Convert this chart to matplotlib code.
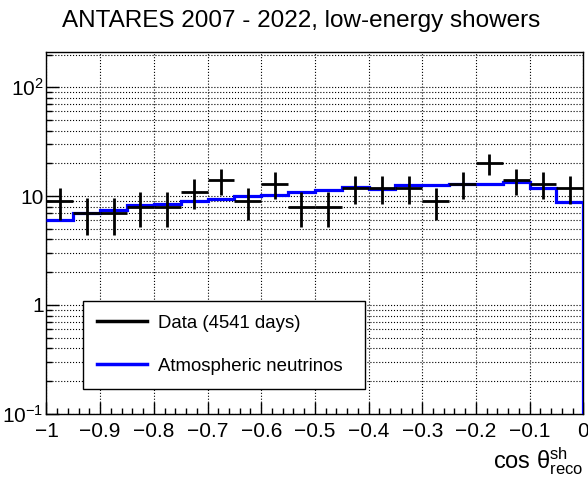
import numpy as np
import matplotlib.pyplot as plt
from matplotlib.ticker import FixedLocator, MultipleLocator, FuncFormatter, LogLocator, NullFormatter

plt.rcParams['font.family'] = ['Liberation Sans', 'DejaVu Sans']
plt.rcParams['mathtext.fontset'] = 'custom'
plt.rcParams['mathtext.rm'] = 'Liberation Sans'
plt.rcParams['mathtext.it'] = 'Liberation Sans:italic'

# bin edges in cos(theta) and counts
edges = np.linspace(-1.0, 0.0, 21)
data_counts = [9, 7, 7, 8, 8, 11, 14, 9, 13, 8,
               8, 12, 12, 12, 9, 13, 20, 14, 13, 12]
atm_nu = [6.1, 7.05, 7.45, 8.3, 8.4, 9.0, 9.45, 10.0, 10.15, 10.9,
          11.35, 12.1, 11.7, 12.6, 12.6, 12.9, 12.9, 13.5, 11.9, 8.9]

centers = 0.5 * (edges[:-1] + edges[1:])
half_w = 0.5 * (edges[1] - edges[0])
data_counts = np.array(data_counts)

fig = plt.figure(figsize=(5.88, 4.79), dpi=100)
ax = fig.add_axes([0.079, 0.136, 0.913, 0.755])

ax.stairs(atm_nu, edges, baseline=None, color='#0000ff', lw=2.3, zorder=3)
# histogram drops to zero at the last edge
ax.vlines(edges[-1], 1e-4, atm_nu[-1], color='#0000ff', lw=2.3, zorder=3)
ax.errorbar(centers, data_counts, xerr=half_w, yerr=np.sqrt(data_counts),
            fmt='none', ecolor='black', elinewidth=2.0, capsize=0, zorder=4)

ax.set_yscale('log')
ax.set_xlim(-1, 0)
ax.set_ylim(0.1, 210)

# ticks ROOT style
ax.xaxis.set_major_locator(MultipleLocator(0.1))
ax.xaxis.set_minor_locator(MultipleLocator(0.02))
ax.xaxis.set_major_formatter(FuncFormatter(
    lambda v, p: '0' if abs(v) < 1e-9 else ('\u2212' + f'{abs(v):g}' if v < 0 else f'{v:g}')))
ax.yaxis.set_major_locator(FixedLocator([0.1, 1, 10, 100]))
ax.yaxis.set_minor_locator(LogLocator(base=10, subs=np.arange(2, 10)))
ax.yaxis.set_minor_formatter(NullFormatter())
ylabels = {0.1: r'$\mathrm{10^{-1}}$', 1: '1', 10: '10', 100: r'$\mathrm{10^{2}}$'}
ax.yaxis.set_major_formatter(FuncFormatter(
    lambda v, p: min(ylabels.items(), key=lambda kv: abs(np.log10(kv[0]) - np.log10(v)))[1]))

ax.tick_params(which='both', direction='in', labelsize=15)
ax.tick_params(which='major', length=9, width=1)
ax.tick_params(which='minor', length=4.5, width=1)
ax.tick_params(axis='x', pad=6)
ax.tick_params(axis='y', pad=2)

ax.grid(True, which='major', axis='x', ls=':', color='black', lw=0.8)
ax.grid(True, which='both', axis='y', ls=':', color='black', lw=0.8)
for s in ax.spines.values():
    s.set_linewidth(1)

fig.text(0.512, 0.957, 'ANTARES 2007 - 2022, low-energy showers', fontsize=17.5,
         ha='center', va='center')
ax.set_xlabel(r'cos $\mathrm{θ^{sh}_{reco}}$', fontsize=17, loc='right', labelpad=3)

h1, = ax.plot([], [], color='black', lw=2.5)
h2, = ax.plot([], [], color='#0000ff', lw=2.5)
leg = ax.legend([h1, h2], ['Data (4541 days)', 'Atmospheric neutrinos'],
                loc='lower left', bbox_to_anchor=(0.0676, 0.069, 0.525, 0.265),
                mode='expand', fontsize=13.4, frameon=True, fancybox=False,
                edgecolor='black', framealpha=1, handlelength=2.7,
                labelspacing=1.4, borderpad=0.75, handletextpad=0.6, borderaxespad=0)
leg.get_frame().set_linewidth(1)

fig.savefig('out.png', dpi=100)
